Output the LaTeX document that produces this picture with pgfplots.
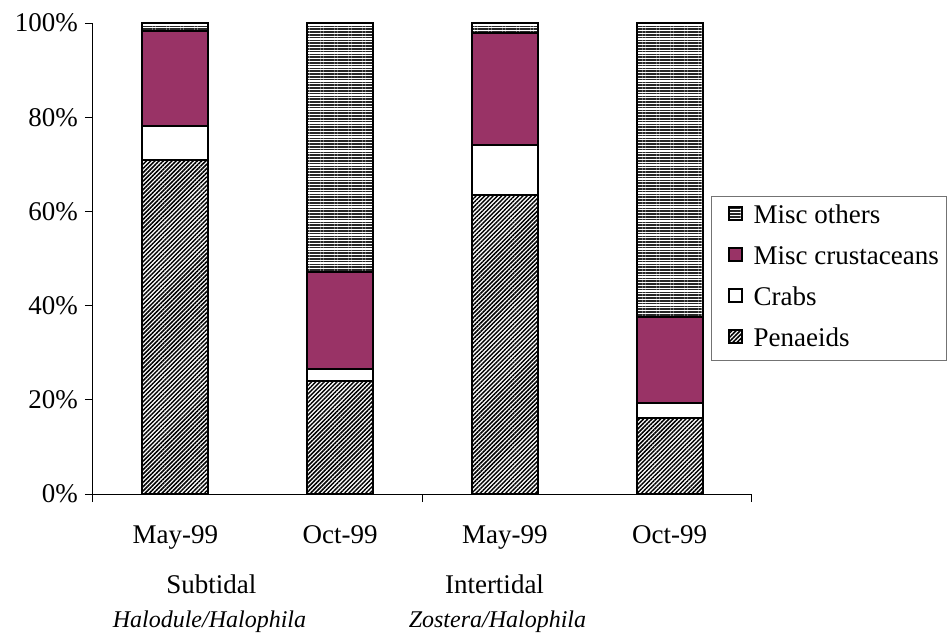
\documentclass[border=0pt]{standalone}
\usepackage{fontspec}
\setmainfont{Liberation Serif}
\usepackage{pgfplots}
\usepackage{pgfplotstable}
\pgfplotsset{compat=1.18}
\usetikzlibrary{patterns,patterns.meta}
\definecolor{mcrust}{HTML}{993366}
\pgfplotstableread{
x pen crab crust other
0.5 70.9 7.3 20.1 1.7
1.5 24.0 2.5 20.7 52.8
2.5 63.5 10.5 23.9 2.1
3.5 16.1 3.3 18.2 62.4
}\datatable

\begin{document}
\begin{tikzpicture}[font=\fontsize{13.5}{16}\selectfont]
\begin{axis}[
  width=329.5pt, height=235.5pt, scale only axis,
  ybar stacked, bar width=33pt,
  xmin=0, xmax=4, ymin=0, ymax=100,
  axis x line=bottom, axis y line=left,
  axis line style={-, draw=black, line width=0.5pt},
  xtick={0,2,4}, xticklabels={},
  ytick={0,20,...,100},
  yticklabel={\pgfmathprintnumber{\tick}\%},
  /pgf/number format/assume math mode=true,
  tick align=outside, major tick length=4pt,
  tick style={black, line width=0.5pt},
  clip=false,
  every axis plot/.append style={draw=black, line width=1pt},
  legend style={at={(0.938,0.633)}, anchor=north west,
    draw=black!55, line width=0.5pt, fill=white,
    inner xsep=4pt, inner ysep=4pt, row sep=8pt,
    nodes={inner sep=0pt, text height=9.5pt, text depth=3pt},
    font=\fontsize{13.5}{16}\selectfont},
  legend cell align=left,
  reverse legend,
  legend image code/.code={\path[draw=none,fill=none,pattern=none] (0pt,0pt) (17pt,0pt);
    \draw[#1, line width=1pt] (4.5pt,-1.5pt) rectangle (11pt,5pt);},
]
\addplot[pattern={Lines[angle=45,distance=1.5pt,line width=0.75pt]}, pattern color=black] table[x=x,y=pen]{\datatable};
\addlegendentry{Penaeids}
\addplot[fill=white] table[x=x,y=crab]{\datatable};
\addlegendentry{Crabs}
\addplot[fill=mcrust] table[x=x,y=crust]{\datatable};
\addlegendentry{Misc crustaceans}
\addplot[pattern={Lines[angle=0,distance=1.4pt,line width=0.75pt]}, pattern color=black!85] table[x=x,y=other]{\datatable};
\addlegendentry{Misc others}

\coordinate (O) at (rel axis cs:0,0);
\node[anchor=base] at (axis cs:0.5,0) [yshift=-24.5pt] {May-99};
\node[anchor=base] at (axis cs:1.5,0) [yshift=-24.5pt] {Oct-99};
\node[anchor=base] at (axis cs:2.5,0) [yshift=-24.5pt] {May-99};
\node[anchor=base] at (axis cs:3.5,0) [yshift=-24.5pt] {Oct-99};
\node[anchor=base] at (axis cs:0.719,0) [yshift=-49.5pt] {Subtidal};
\node[anchor=base] at (axis cs:2.437,0) [yshift=-49.5pt] {Intertidal};
\node[anchor=base, font=\fontsize{12}{14}\selectfont\itshape] at (axis cs:0.707,0) [yshift=-66.5pt] {Halodule/Halophila};
\node[anchor=base, font=\fontsize{12}{14}\selectfont\itshape] at (axis cs:2.455,0) [yshift=-66.5pt] {Zostera/Halophila};
\end{axis}
\pgfresetboundingbox
\path (O) ++(-46.5pt,-70pt) rectangle ++(474.5pt,317pt);
\end{tikzpicture}
\end{document}
